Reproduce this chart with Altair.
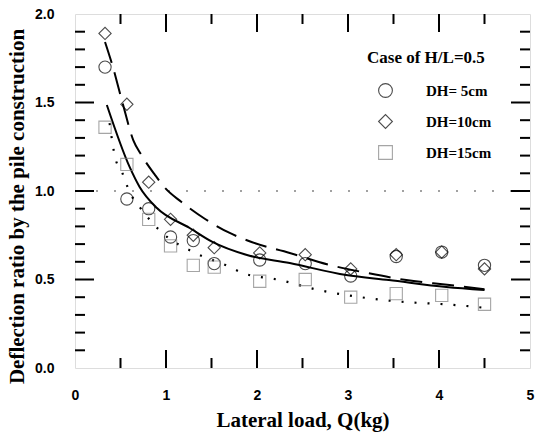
import altair as alt
import pandas as pd

# Measured deflection ratios at each lateral load step
load_q = [0.33, 0.57, 0.81, 1.05, 1.30, 1.53, 2.03, 2.53, 3.03, 3.53, 4.03, 4.50]
ratio_dh5 = [1.70, 0.955, 0.90, 0.74, 0.72, 0.59, 0.61, 0.59, 0.52, 0.63, 0.655, 0.58]
ratio_dh10 = [1.89, 1.49, 1.05, 0.84, 0.75, 0.68, 0.65, 0.64, 0.56, 0.64, 0.655, 0.56]
ratio_dh15 = [1.36, 1.15, 0.84, 0.69, 0.58, 0.57, 0.49, 0.50, 0.40, 0.42, 0.41, 0.36]

series_names = ["DH= 5cm", "DH=10cm", "DH=15cm"]
series_shapes = ["circle", "diamond", "square"]
series_colors = ["#000000", "#000000", "#808080"]

# Fitted trend curves
fit_solid_q = [0.35, 0.60, 0.71, 0.90, 1.26, 1.51, 1.89, 2.36, 2.98, 3.45, 4.08, 4.50]
fit_solid_r = [1.486, 1.136, 1.023, 0.904, 0.791, 0.712, 0.638, 0.593, 0.525, 0.497, 0.458, 0.441]

fit_dash_q = [0.33, 0.41, 0.52, 0.64, 0.73, 0.88, 0.99, 1.17, 1.43, 1.70, 1.94, 2.36, 2.80, 3.21, 3.64, 4.09, 4.50]
fit_dash_r = [1.842, 1.712, 1.503, 1.288, 1.203, 1.090, 1.017, 0.938, 0.842, 0.763, 0.712, 0.650, 0.582, 0.537, 0.497, 0.470, 0.445]

fit_dot_q = [0.38, 0.44, 0.52, 0.60, 0.71, 0.96, 1.32, 1.68, 1.84, 2.25, 2.63, 3.21, 3.62, 4.00, 4.41, 4.50]
fit_dot_r = [1.384, 1.192, 1.102, 0.994, 0.910, 0.763, 0.650, 0.576, 0.537, 0.497, 0.446, 0.395, 0.373, 0.362, 0.345, 0.340]

ref_level = [1.0]

x_major_ticks = [1, 2, 3, 4]
x_minor_ticks = [0.5, 1.5, 2.5, 3.5, 4.5]
y_major_ticks = [0.5, 1.0, 1.5]
y_minor_ticks = [0.1, 0.2, 0.3, 0.4, 0.6, 0.7, 0.8, 0.9, 1.1, 1.2, 1.3, 1.4, 1.6, 1.7, 1.8, 1.9]

W, H = 455, 354
SERIF = "Liberation Serif"
SANS = "Liberation Sans"

points = pd.DataFrame({
    "q": load_q * 3,
    "r": ratio_dh5 + ratio_dh10 + ratio_dh15,
    "series": [series_names[0]] * len(load_q) + [series_names[1]] * len(load_q) + [series_names[2]] * len(load_q),
})

x_scale = alt.Scale(domain=[0, 5], nice=False, zero=False)
y_scale = alt.Scale(domain=[0, 2], nice=False, zero=False)

x_axis = alt.Axis(
    title="Lateral load, Q(kg)", values=[0, 1, 2, 3, 4, 5], format="d",
    ticks=False, domain=False, grid=False, labelFlush=False, labelOverlap=False,
    labelFont=SANS, labelFontWeight="bold", labelFontSize=14, labelPadding=20, labelColor="black",
    titleFont=SERIF, titleFontWeight="bold", titleFontSize=21, titlePadding=7, titleColor="black",
)
y_axis = alt.Axis(
    title="Deflection ratio by the pile construction", values=[0, 0.5, 1.0, 1.5, 2.0], format=".1f",
    ticks=False, domain=False, grid=False, labelFlush=False, labelOverlap=False,
    labelFont=SANS, labelFontWeight="bold", labelFontSize=14, labelPadding=21, labelColor="black",
    titleFont=SERIF, titleFontWeight="bold", titleFontSize=21, titleColor="black",
    titleX=-58, titleY=192, titleAlign="center", titleBaseline="middle", titleAngle=270,
)

legend = alt.Legend(
    title="Case of H/L=0.5", orient="none", legendX=292, legendY=36, padding=0,
    titleFont=SERIF, titleFontWeight="bold", titleFontSize=17, titleColor="black",
    titlePadding=16, titleLimit=300,
    labelFont=SERIF, labelFontWeight="bold", labelFontSize=15, labelColor="black",
    labelOffset=33, symbolOffset=11, symbolSize=190, symbolStrokeWidth=1.1,
    symbolFillColor="transparent", rowPadding=12,
)

pts = alt.Chart(points).mark_point(filled=False, strokeWidth=1.1, size=150).encode(
    x=alt.X("q:Q", scale=x_scale, axis=x_axis),
    y=alt.Y("r:Q", scale=y_scale, axis=y_axis),
    shape=alt.Shape("series:N", scale=alt.Scale(domain=series_names, range=series_shapes),
                    legend=legend),
    color=alt.Color("series:N", scale=alt.Scale(domain=series_names, range=series_colors),
                    legend=legend),
)

def curve(qs, rs, dash, width):
    df = pd.DataFrame({"q": qs, "r": rs})
    props = dict(color="black", strokeWidth=width, interpolate="monotone")
    if dash:
        props["strokeDash"] = dash
    return alt.Chart(df).mark_line(**props).encode(
        x=alt.X("q:Q", scale=x_scale), y=alt.Y("r:Q", scale=y_scale)
    )

solid = curve(fit_solid_q, fit_solid_r, None, 2)
dashed = curve(fit_dash_q, fit_dash_r, [22, 10], 2)
dotted = curve(fit_dot_q, fit_dot_r, [2, 11], 2.2)

ref = alt.Chart(pd.DataFrame({"r": ref_level})).mark_rule(
    color="#444444", strokeWidth=1.2, strokeDash=[2, 16]
).encode(y=alt.Y("r:Q", scale=y_scale))

def xticks(vals, length):
    df = pd.DataFrame({"q": vals})
    bottom = alt.Chart(df).mark_rule(color="black", strokeWidth=2).encode(
        x=alt.X("q:Q", scale=x_scale), y=alt.value(H), y2=alt.value(H - length))
    top = alt.Chart(df).mark_rule(color="black", strokeWidth=2).encode(
        x=alt.X("q:Q", scale=x_scale), y=alt.value(0), y2=alt.value(length))
    return bottom + top

def yticks(vals, length):
    df = pd.DataFrame({"r": vals})
    left = alt.Chart(df).mark_rule(color="black", strokeWidth=2).encode(
        y=alt.Y("r:Q", scale=y_scale), x=alt.value(0), x2=alt.value(length))
    right = alt.Chart(df).mark_rule(color="black", strokeWidth=2).encode(
        y=alt.Y("r:Q", scale=y_scale), x=alt.value(W), x2=alt.value(W - length))
    return left + right

chart = alt.layer(
    ref,
    xticks(x_major_ticks, 18), xticks(x_minor_ticks, 10),
    yticks(y_major_ticks, 19), yticks(y_minor_ticks, 10),
    dashed, solid, dotted, pts,
).properties(
    width=W, height=H,
    autosize=alt.AutoSizeParams(type="none"),
    padding={"left": 75, "top": 14, "right": 5, "bottom": 66},
).configure_view(
    stroke="black", strokeWidth=2
).configure(background="white")

chart.save("out.html", embed_options={"renderer": "svg", "actions": False})
